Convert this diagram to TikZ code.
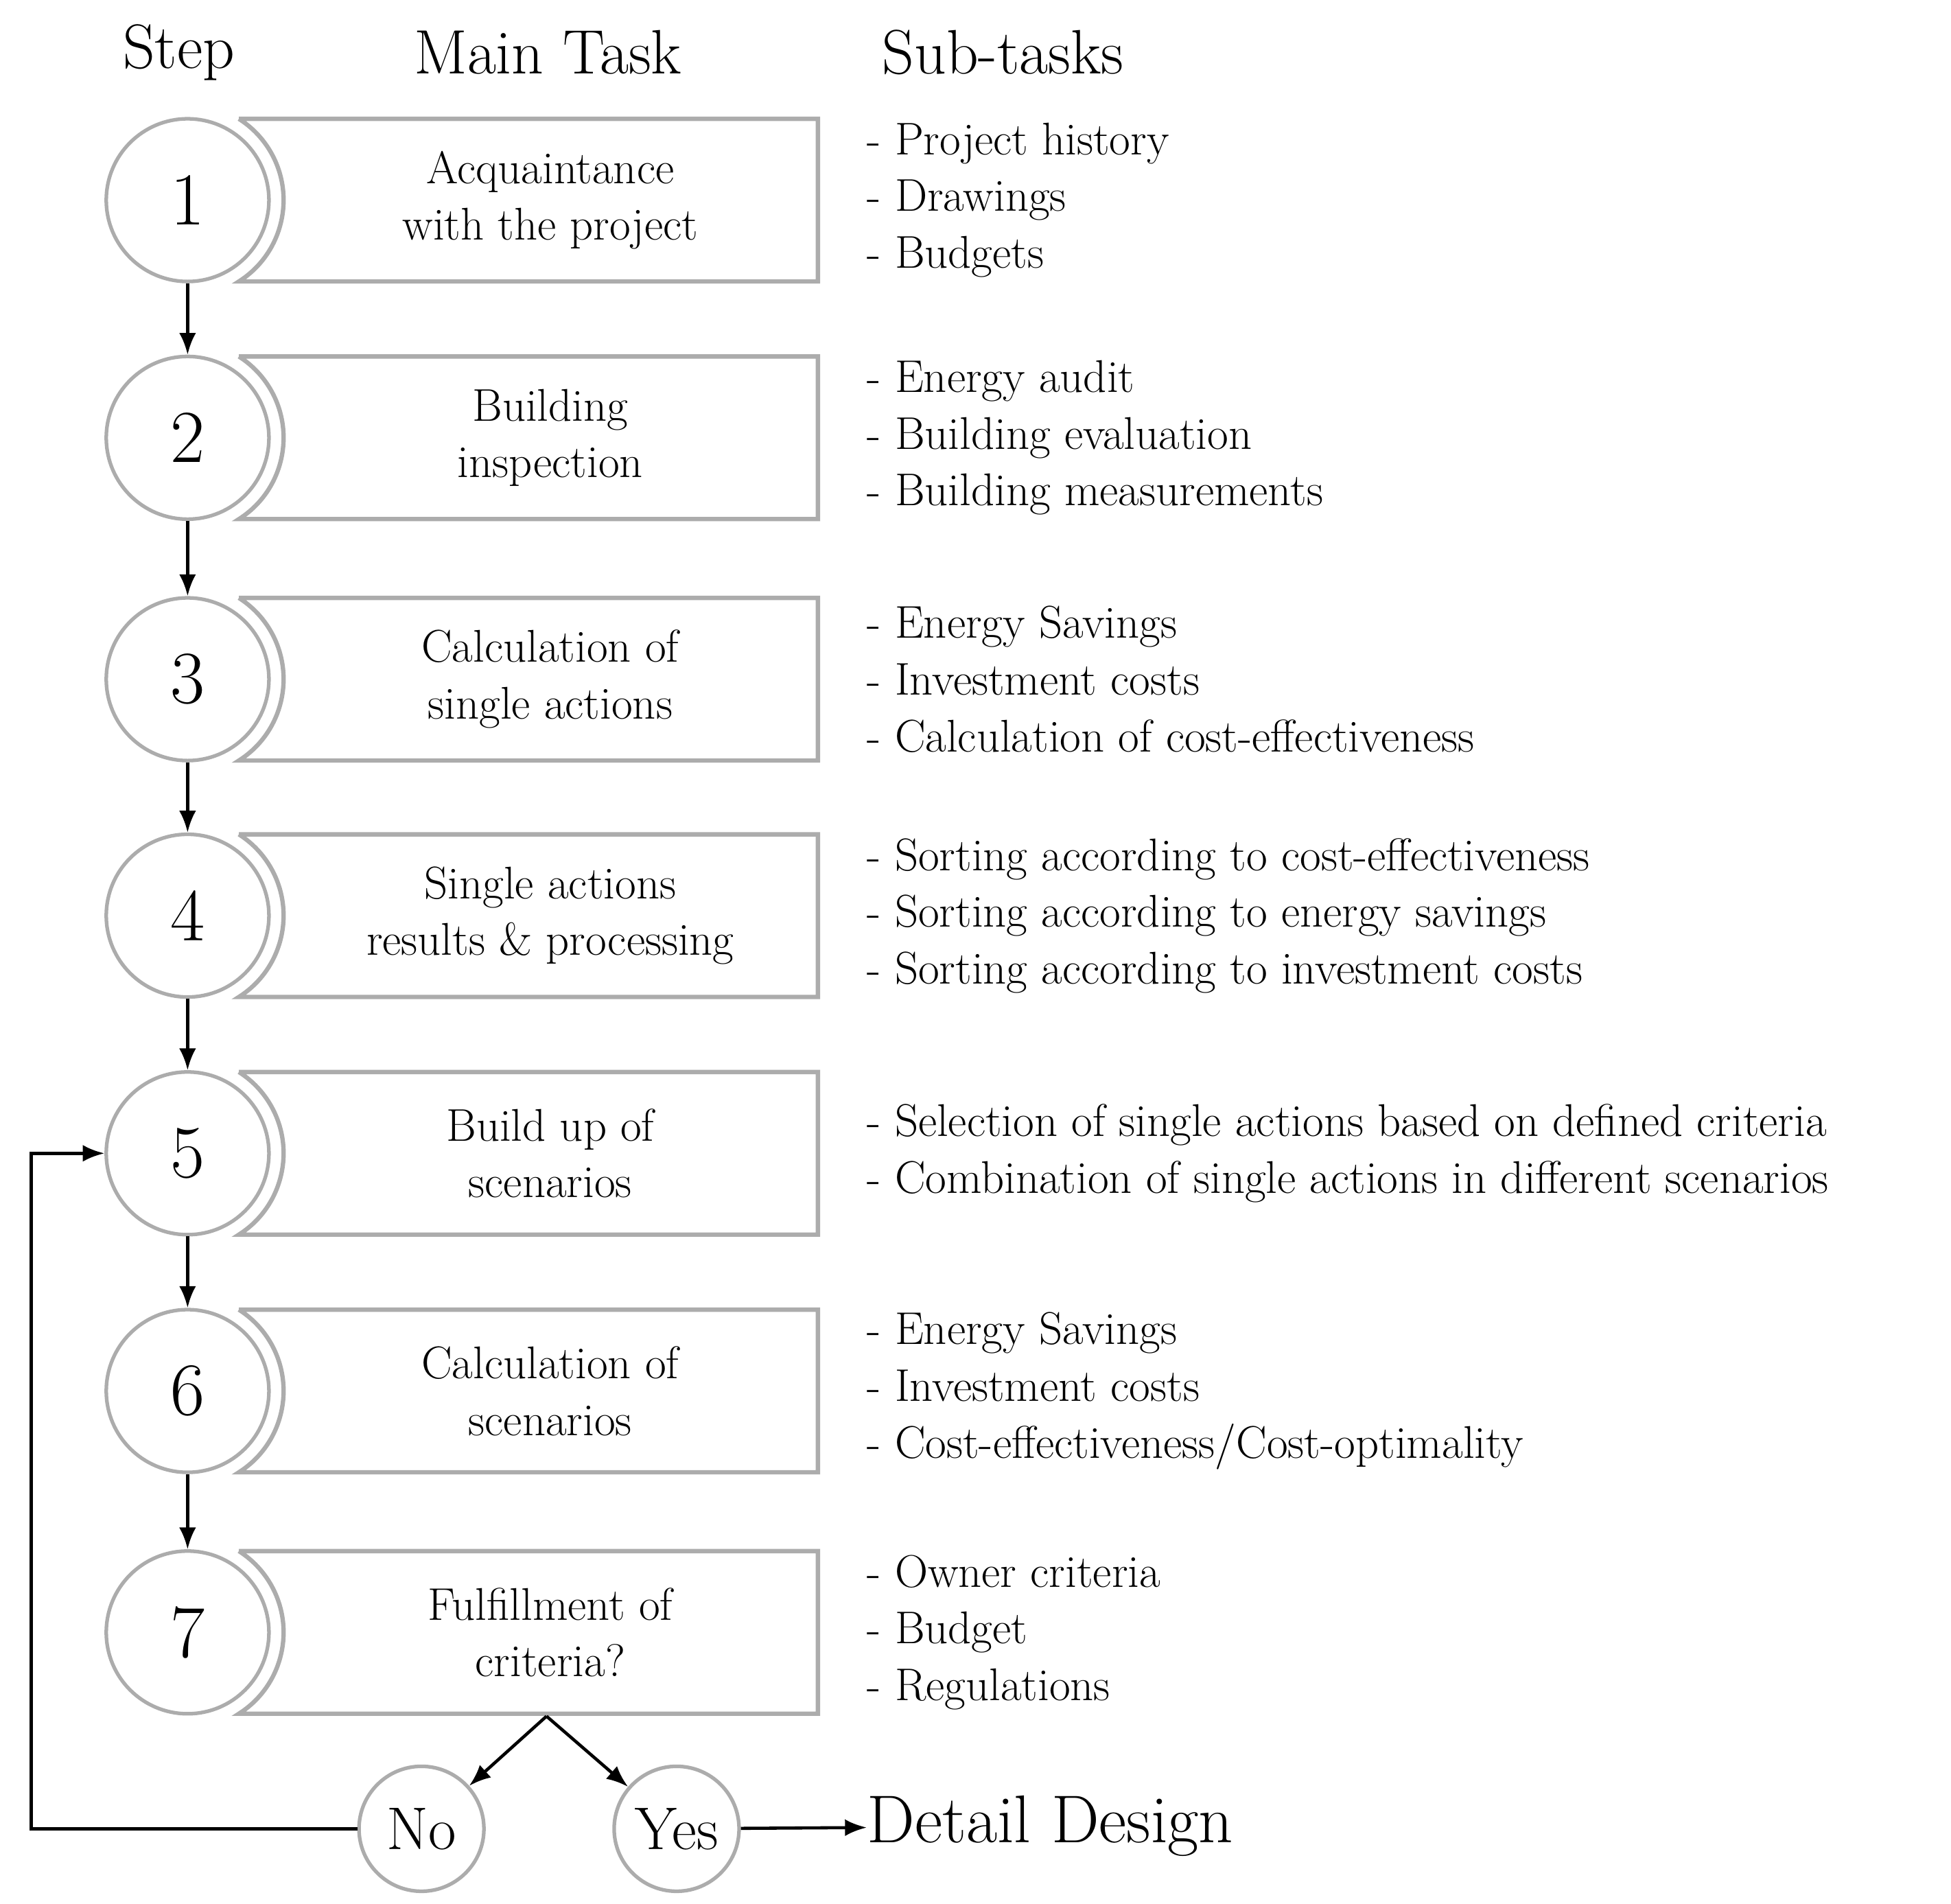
\documentclass[tikz,border=0pt]{standalone}
\usetikzlibrary{arrows.meta,positioning}
\begin{document}
\begin{tikzpicture}[x=0.018224cm,y=-0.018224cm,
    stepnum/.style={circle, draw=gray!65, line width=1.5pt, fill=white, minimum size=2.37cm, inner sep=0pt, font=\fontsize{31}{31}\selectfont},
    answer/.style={circle, draw=gray!65, line width=1.5pt, fill=white, minimum size=1.82cm, inner sep=0pt, font=\fontsize{25}{25}\selectfont},
    taskbox/.style={draw=gray!65, line width=1.8pt},
    maintext/.style={align=center, font=\fontsize{19}{23.5}\selectfont},
    subtext/.style={align=left, anchor=west, inner sep=0pt, font=\fontsize{19}{23.5}\selectfont},
    header/.style={font=\fontsize{26}{26}\selectfont},
    flow/.style={-{Latex[length=9pt,width=7pt]}, line width=1.3pt}]
    \useasboundingbox (0,0) rectangle (1560,1521.6);

    % column headers
    \node [header] (hstep) at (143, 42) {Step};
    \node [header] (hmain) at (438, 42) {Main Task};
    \node [header] (hsub) at (802, 42) {Sub-tasks};

    % steps
    \foreach \n/\y/\main/\subs in {
        1/160/{Acquaintance\\with the project}/{- Project history\\- Drawings\\- Budgets},
        2/350/{Building\\inspection}/{- Energy audit\\- Building evaluation\\- Building measurements},
        3/543/{Calculation of\\single actions}/{- Energy Savings\\- Investment costs\\- Calculation of cost-effectiveness},
        4/732/{Single actions\\results \& processing}/{- Sorting according to cost-effectiveness\\- Sorting according to energy savings\\- Sorting according to investment costs},
        5/922/{Build up of\\scenarios}/{- Selection of single actions based on defined criteria\\- Combination of single actions in different scenarios},
        6/1112/{Calculation of\\scenarios}/{- Energy Savings\\- Investment costs\\- Cost-effectiveness/Cost-optimality},
        7/1305/{Fulfillment of\\criteria?}/{- Owner criteria\\- Budget\\- Regulations}} {
        \draw [taskbox] (191, \y-65) -- (654, \y-65) -- (654, \y+65) -- (191, \y+65)
            arc [start angle=57.6, end angle=-57.6, radius=77];
        \node [stepnum] (s\n) at (150, \y) {\n};
        \node [maintext] (t\n) at (440, \y) {\main};
        \node [subtext] (sub\n) at (693, \y) {\subs};
    }
    \foreach \a/\b in {1/2, 2/3, 3/4, 4/5, 5/6, 6/7}
        \draw [flow] (s\a) -- (s\b);

    % decision
    \coordinate (fork) at (437, 1372);
    \node [answer] (no) at (337, 1462) {No};
    \node [answer] (yes) at (541, 1462) {Yes};
    \node [font=\fontsize{28}{28}\selectfont, anchor=west, inner sep=0pt] (detail) at (693, 1460) {Detail Design};
    \draw [flow] (fork) -- (no);
    \draw [flow] (fork) -- (yes);
    \draw [flow] (yes) -- (detail);
    \draw [flow] (no.west) -- (25, 1462) |- (s5.west);
\end{tikzpicture}
\end{document}
